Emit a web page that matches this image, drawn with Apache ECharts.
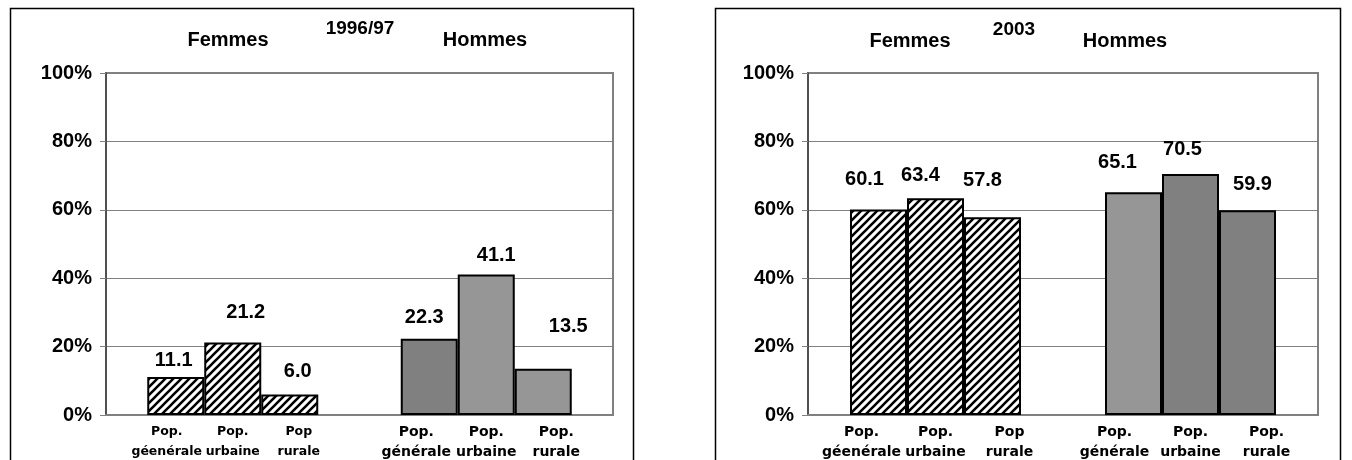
<!DOCTYPE html>
<html>
<head>
<meta charset="utf-8">
<script src="https://cdn.jsdelivr.net/npm/echarts@6/dist/echarts.min.js"></script>
<style>
  html, body { margin: 0; padding: 0; background: #fff; }
  #chart { width: 1352px; height: 460px; }
</style>
</head>
<body>
<div id="chart"></div>
<script>
// Groups on the category axis
const groups = ['Femmes', 'Hommes'];

// Bar captions (two lines each), per group
const femmesCaptions = [['Pop.', 'géenérale'], ['Pop.', 'urbaine'], ['Pop', 'rurale']];
const hommesCaptions = [['Pop.', 'générale'], ['Pop.', 'urbaine'], ['Pop.', 'rurale']];

// Percentages: general, urban, rural population
const femmes1996 = [11.1, 21.2, 6.0];
const hommes1996 = [22.3, 41.1, 13.5];
const femmes2003 = [60.1, 63.4, 57.8];
const hommes2003 = [65.1, 70.5, 59.9];

// Y axis ticks
const yTicks = [0, 20, 40, 60, 80, 100];

// Fill shades of the men's bars
const hommesShade1996 = ['#808080', '#969696', '#969696'];
const hommesShade2003 = ['#969696', '#808080', '#808080'];

// Value-label nudges [dx, height of label centre above bar top]
const nudgeF1996 = [[-2, 17], [13, 30], [8, 23]];
const nudgeH1996 = [[-5, 21], [10, 19], [25, 42]];
const nudgeF2003 = [[-14, 30], [-15, 23], [-10, 37]];
const nudgeH2003 = [[-16, 30], [-8, 24], [5, 26]];

const FONT = '"Liberation Sans", Arial, Helvetica, sans-serif';
const WIDE_FONT = '"DejaVu Sans", Verdana, sans-serif';

// Diagonal hatch used for the women's bars
function makeHatch() {
  const c = document.createElement('canvas');
  c.width = 8; c.height = 8;
  const g = c.getContext('2d');
  g.fillStyle = '#ffffff';
  g.fillRect(0, 0, 8, 8);
  g.strokeStyle = '#000000';
  g.lineWidth = 2.6;
  g.beginPath();
  g.moveTo(-2, 10); g.lineTo(10, -2);
  g.moveTo(-2, 2); g.lineTo(2, -2);
  g.moveTo(6, 10); g.lineTo(10, 6);
  g.stroke();
  return c;
}
const hatch = { image: makeHatch(), repeat: 'repeat' };

// Caption text: three columns under each group, two lines
function captionFormatter(value) {
  const caps = value === 'Femmes' ? femmesCaptions : hommesCaptions;
  const key = value === 'Femmes' ? 'f' : 'h';
  const l1 = caps.map(c => '{' + key + '|' + c[0] + '}').join('');
  const l2 = caps.map(c => '{' + key + '|' + c[1] + '}').join('');
  return l1 + '\n' + l2;
}

function capStyle(colWidth, size) {
  return { width: colWidth, align: 'center', fontSize: size, fontWeight: 'bold',
    fontFamily: WIDE_FONT, color: '#000', lineHeight: 20 };
}

function panelSeries(gridIdx, fem, hom, shades, nudgeF, nudgeH) {
  const series = [];
  for (let i = 0; i < 3; i++) {
    const items = [
      { value: fem[i], itemStyle: { color: hatch },
        label: { offset: [nudgeF[i][0], 0], distance: nudgeF[i][1] - 10 } },
      { value: hom[i], itemStyle: { color: shades[i] },
        label: { offset: [nudgeH[i][0], 0], distance: nudgeH[i][1] - 10 } }
    ];
    series.push({
      type: 'bar',
      xAxisIndex: gridIdx,
      yAxisIndex: gridIdx,
      barWidth: 57,
      barGap: '0%',
      data: items,
      itemStyle: { borderColor: '#000', borderWidth: 2 },
      label: {
        show: true, position: 'top',
        fontSize: 20, fontWeight: 'bold', fontFamily: FONT, color: '#000',
        lineHeight: 20,
        formatter: p => p.value.toFixed(1)
      },
      emphasis: { disabled: true },
      animation: false
    });
  }
  return series;
}

function xAxisFor(gridIdx, fStyle, hStyle) {
  return {
    type: 'category', gridIndex: gridIdx, data: groups,
    axisTick: { show: false },
    axisLine: { lineStyle: { color: '#808080', width: 2 } },
    axisLabel: {
      interval: 0, margin: 7, formatter: captionFormatter,
      rich: { f: fStyle, h: hStyle }
    }
  };
}

function yAxisFor(gridIdx) {
  return {
    type: 'value', gridIndex: gridIdx, min: yTicks[0], max: yTicks[yTicks.length - 1],
    interval: yTicks[1] - yTicks[0],
    axisLine: { show: true, lineStyle: { color: '#404040', width: 1.5 } },
    axisTick: { show: true, length: 6, lineStyle: { color: '#808080' } },
    splitLine: { lineStyle: { color: '#808080', width: 1 } },
    axisLabel: { margin: 14, fontSize: 20, fontWeight: 'bold', fontFamily: FONT,
      color: '#000', formatter: '{value}%' }
  };
}

function headText(x, y, text, size) {
  return { type: 'text', x: x, y: y, style: { text: text, x: 0, y: 0,
    align: 'center', verticalAlign: 'middle', fontSize: size, fontWeight: 'bold',
    fontFamily: FONT, fill: '#000' }, silent: true };
}

const chart = echarts.init(document.getElementById('chart'), null, { renderer: 'canvas' });
chart.setOption({
  backgroundColor: '#ffffff',
  animation: false,
  grid: [
    { left: 106, right: 739, top: 73, bottom: 45, show: true, borderColor: '#808080', borderWidth: 2 },
    { left: 808, right: 34, top: 73, bottom: 45, show: true, borderColor: '#808080', borderWidth: 2 }
  ],
  xAxis: [
    xAxisFor(0, capStyle(66, 12.5), capStyle(70, 14)),
    xAxisFor(1, capStyle(74, 14), capStyle(76, 14))
  ],
  yAxis: [yAxisFor(0), yAxisFor(1)],
  series: [
    ...panelSeries(0, femmes1996, hommes1996, hommesShade1996, nudgeF1996, nudgeH1996),
    ...panelSeries(1, femmes2003, hommes2003, hommesShade2003, nudgeF2003, nudgeH2003)
  ],
  graphic: [
    { type: 'rect', shape: { x: 10.5, y: 8.5, width: 623, height: 470 },
      style: { fill: 'none', stroke: '#000', lineWidth: 1.5 }, silent: true, z: -1 },
    { type: 'rect', shape: { x: 715.5, y: 8.5, width: 625, height: 470 },
      style: { fill: 'none', stroke: '#000', lineWidth: 1.5 }, silent: true, z: -1 },
    headText(228, 40, 'Femmes', 20),
    headText(360, 29, '1996/97', 19),
    headText(485, 40, 'Hommes', 20),
    headText(910, 41, 'Femmes', 20),
    headText(1014, 30, '2003', 19),
    headText(1125, 41, 'Hommes', 20)
  ]
});
</script>
</body>
</html>
